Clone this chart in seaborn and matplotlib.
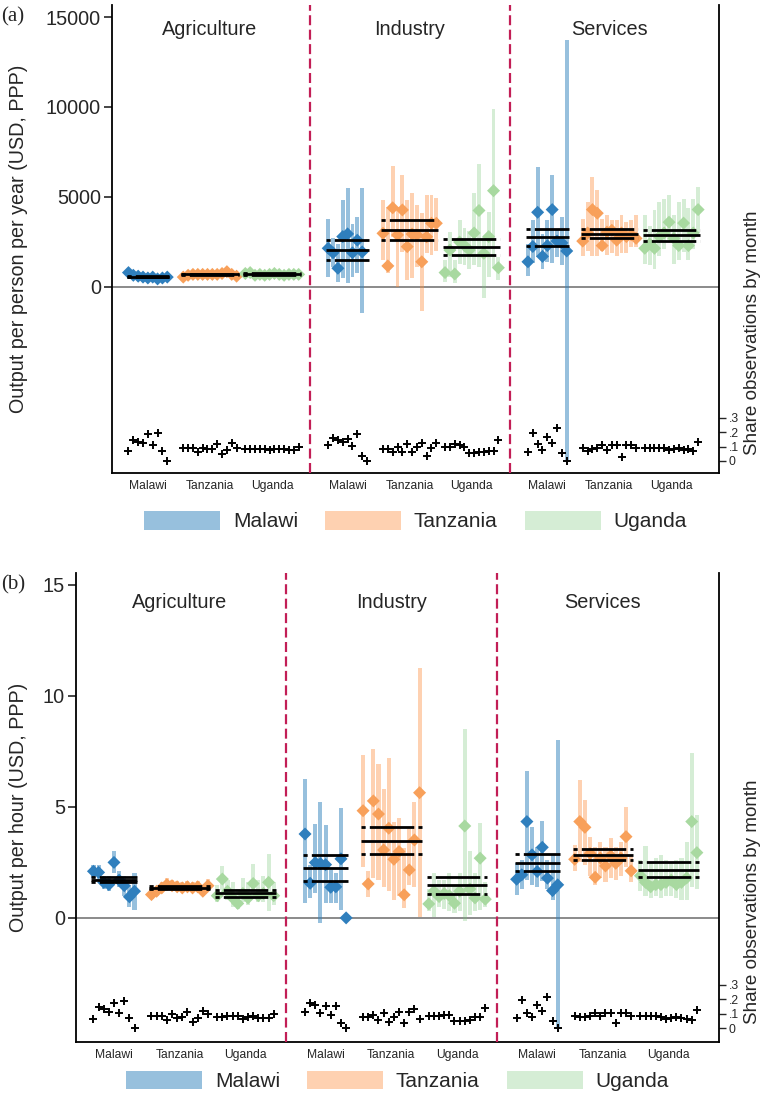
import numpy as np
import pandas as pd
import matplotlib
matplotlib.use("Agg")
import matplotlib.pyplot as plt
import matplotlib.transforms as mtransforms
from matplotlib.patches import Patch
import seaborn as sns

nan = np.nan

COUNTRIES = ["Malawi", "Tanzania", "Uganda"]
SECTORS = ["Agriculture", "Industry", "Services"]

# ---------------- panel (a): output per person per year ----------------
# one list per country (Malawi, Tanzania, Uganda), one value per survey month
YR_AGR_EST = [[800, 650, 600, 550, 500, 550, 450, 500, 550],
              [550, 650, 700, 700, 700, 700, 700, 700, 750, 850, 700, 600],
              [750, 800, 650, 700, 650, 700, 750, 700, 650, 700, 700, 700]]
YR_AGR_LO = [[650, 500, 450, 400, 380, 400, 330, 380, 380],
             [420, 520, 600, 600, 600, 600, 600, 600, 620, 700, 580, 480],
             [620, 650, 520, 580, 540, 580, 620, 580, 540, 580, 580, 580]]
YR_AGR_HI = [[900, 780, 720, 680, 640, 680, 580, 640, 700],
             [680, 780, 800, 800, 800, 800, 800, 800, 880, 950, 820, 720],
             [880, 920, 780, 820, 770, 820, 880, 820, 780, 820, 820, 820]]

YR_IND_EST = [[2150, 1900, 1040, 2800, 2950, 1900, 2600, 1950, nan],
              [2980, 1170, 4400, 2890, 4280, 2240, 2940, 2890, 1400, 2790, 3540, 3540],
              [800, 2050, 720, 2500, 2300, 2050, 3000, 4250, 1870, 2800, 5350, 1070]]
YR_IND_LO = [[570, 1100, 300, 480, 200, 570, 760, -1460, nan],
             [1500, 760, 2800, 20, 1960, 390, 480, 1100, -1320, 1900, 1800, 2000],
             [300, 570, 200, 1300, 1200, 1000, 1220, 1130, -630, 570, 1130, 390]]
YR_IND_HI = [[3760, 2700, 2400, 4830, 5480, 3500, 3900, 5480, nan],
             [4830, 4440, 6720, 4460, 6220, 4830, 5210, 4560, 4090, 5110, 5100, 4940],
             [1500, 3070, 1500, 3700, 3300, 3100, 5210, 6820, 2790, 4180, 9870, 1680]]

YR_SRV_EST = [[1400, 2250, 4150, 1700, 2300, 4300, 2550, 2450, 2000],
              [2550, 3000, 4300, 4100, 2300, 3050, 3150, 2600, 3000, 2800, 2900, 2700],
              [2150, 2400, 2150, 2800, 3000, 3600, 2700, 2300, 3550, 2300, 3000, 4300]]
YR_SRV_LO = [[600, 1320, 1680, 1000, 1390, 1320, 1680, 1220, -9600],
             [1700, 2000, 1700, 1700, 2000, 1800, 1900, 1700, 1900, 1900, 2200, 2200],
             [1300, 1200, 1000, 1700, 2100, 2600, 1300, 1500, 1950, 1500, 2100, 3000]]
YR_SRV_HI = [[2400, 3720, 6680, 2920, 3720, 6220, 3170, 3870, 13700],
             [3800, 4700, 6100, 5400, 3800, 4000, 3700, 3700, 4000, 3600, 3700, 4000],
             [4000, 3400, 4300, 4700, 4900, 5100, 4000, 4700, 4900, 4400, 4900, 5550]]

# pooled mean and its interval per country: [low, mean, high]
YR_AGR_BAND = [[530, 570, 610], [675, 705, 735], [690, 720, 750]]
YR_IND_BAND = [[1500, 2056, 2611], [2611, 3167, 3722], [1778, 2240, 2685]]
YR_SRV_BAND = [[2296, 2759, 3222], [2700, 2950, 3222], [2572, 2889, 3167]]

# share of observations by month
SH_YR_AGR = [[0.07, 0.147, 0.135, 0.124, 0.187, 0.112, 0.194, 0.07, 0.002],
             [0.089, 0.089, 0.089, 0.065, 0.089, 0.08, 0.08, 0.119, 0.049, 0.075, 0.124, 0.089],
             [0.085, 0.085, 0.08, 0.085, 0.08, 0.075, 0.08, 0.08, 0.08, 0.075, 0.075, 0.1]]
SH_YR_IND = [[0.112, 0.159, 0.147, 0.135, 0.152, 0.107, 0.187, 0.035, 0.0],
             [0.085, 0.085, 0.065, 0.1, 0.065, 0.115, 0.065, 0.1, 0.125, 0.035, 0.09, 0.125],
             [0.1, 0.1, 0.12, 0.11, 0.1, 0.055, 0.055, 0.06, 0.06, 0.07, 0.07, 0.145]]
SH_YR_SRV = [[0.065, 0.194, 0.119, 0.077, 0.166, 0.128, 0.229, 0.058, 0.0],
             [0.09, 0.07, 0.08, 0.09, 0.11, 0.075, 0.11, 0.11, 0.03, 0.11, 0.11, 0.09],
             [0.09, 0.09, 0.09, 0.09, 0.09, 0.075, 0.085, 0.09, 0.075, 0.085, 0.07, 0.13]]

# ---------------- panel (b): output per hour ----------------
HR_AGR_EST = [[2.1, 2.05, 1.6, 1.5, 2.5, 1.7, 1.45, 0.95, 1.2],
              [1.05, 1.2, 1.35, 1.5, 1.45, 1.4, 1.35, 1.4, 1.35, 1.4, 1.2, 1.45],
              [1.0, 1.75, 1.2, 0.9, 0.65, 1.1, 0.9, 1.55, 1.0, 1.1, 1.6, 1.0]]
HR_AGR_LO = [[1.8, 1.7, 1.3, 1.2, 2.0, 1.4, 1.0, 0.5, 0.35],
             [0.85, 1.0, 1.15, 1.25, 1.25, 1.2, 1.15, 1.2, 1.15, 1.2, 1.0, 1.2],
             [0.7, 1.25, 0.8, 0.5, 0.4, 0.7, 0.6, 1.1, 0.7, 0.7, 0.3, 0.6]]
HR_AGR_HI = [[2.4, 2.4, 1.9, 1.9, 3.0, 2.1, 1.9, 1.5, 2.0],
             [1.3, 1.45, 1.6, 1.8, 1.7, 1.65, 1.6, 1.65, 1.6, 1.65, 1.5, 1.75],
             [1.5, 2.35, 1.7, 1.6, 1.3, 1.8, 1.6, 2.45, 1.7, 1.9, 2.9, 1.6]]

HR_IND_EST = [[3.78, 1.56, 2.49, 2.45, 2.4, 1.38, 1.4, 2.66, 0.0],
              [4.83, 1.53, 5.27, 4.68, 3.06, 4.04, 2.64, 2.99, 1.04, 2.16, 3.51, 5.64],
              [0.63, 1.2, 0.96, 1.1, 1.0, 0.66, 1.2, 4.14, 1.3, 0.9, 2.69, 0.84]]
HR_IND_LO = [[0.66, 0.9, 1.11, -0.24, 0.66, 0.66, 0.66, 0.36, nan],
             [2.31, 0.96, 1.8, 1.7, 1.41, 1.2, 0.81, 1.0, 0.44, 1.49, 1.4, 0.06],
             [0.3, 0.06, 0.5, 0.4, 0.3, 0.2, 0.3, -0.16, 0.14, 0.3, 0.36, 0.5]]
HR_IND_HI = [[6.25, 2.4, 4.23, 5.24, 4.17, 2.16, 2.0, 4.94, nan],
             [7.34, 2.1, 7.6, 6.94, 5.8, 7.22, 4.3, 4.5, 3.14, 4.0, 5.24, 11.28],
             [1.3, 2.0, 1.7, 1.7, 2.0, 1.5, 2.0, 8.5, 3.0, 2.0, 4.29, 1.6]]

HR_SRV_EST = [[1.74, 1.94, 4.34, 2.84, 2.09, 3.18, 1.79, 1.23, 1.49],
              [2.64, 4.34, 4.08, 2.9, 1.83, 2.7, 2.34, 2.8, 2.46, 2.7, 3.66, 2.12],
              [1.9, 1.6, 1.4, 1.5, 1.5, 1.6, 1.7, 1.5, 1.6, 1.8, 4.34, 2.94]]
HR_SRV_LO = [[1.04, 1.3, 1.71, 1.49, 1.4, 1.64, 1.3, 0.81, -4.95],
             [2.1, 2.5, 2.4, 1.9, 1.5, 1.8, 1.6, 1.8, 1.7, 1.9, 2.3, 1.6],
             [1.2, 1.0, 0.9, 1.0, 0.9, 1.0, 1.0, 0.9, 0.8, 0.8, 1.4, 1.3]]
HR_SRV_HI = [[2.46, 2.6, 6.6, 4.11, 3.2, 4.37, 2.6, 2.9, 8.0],
             [3.3, 6.22, 5.32, 3.66, 3.2, 3.4, 3.2, 3.59, 3.2, 3.4, 4.99, 2.8],
             [2.6, 3.24, 2.5, 2.7, 2.84, 2.6, 2.5, 2.6, 2.7, 3.44, 7.42, 4.64]]

HR_AGR_BAND = [[1.6, 1.72, 1.85], [1.28, 1.35, 1.42], [0.95, 1.1, 1.25]]
HR_IND_BAND = [[1.67, 2.27, 2.84], [2.87, 3.48, 4.08], [1.08, 1.47, 1.86]]
HR_SRV_BAND = [[2.12, 2.49, 2.87], [2.61, 2.84, 3.11], [1.82, 2.16, 2.51]]

SH_HR_AGR = [[0.065, 0.146, 0.132, 0.111, 0.178, 0.108, 0.19, 0.069, 0.0],
             [0.085, 0.085, 0.085, 0.058, 0.099, 0.069, 0.076, 0.115, 0.046, 0.069, 0.122, 0.099],
             [0.076, 0.076, 0.085, 0.085, 0.085, 0.062, 0.076, 0.085, 0.069, 0.069, 0.069, 0.099]]
SH_HR_IND = [[0.115, 0.178, 0.162, 0.108, 0.157, 0.092, 0.155, 0.039, 0.0],
             [0.08, 0.075, 0.095, 0.055, 0.105, 0.045, 0.08, 0.115, 0.035, 0.115, 0.13, 0.065],
             [0.085, 0.085, 0.085, 0.092, 0.092, 0.053, 0.053, 0.053, 0.058, 0.081, 0.081, 0.139]]
SH_HR_SRV = [[0.069, 0.196, 0.108, 0.076, 0.162, 0.12, 0.22, 0.053, 0.0],
             [0.085, 0.076, 0.081, 0.085, 0.104, 0.085, 0.104, 0.108, 0.035, 0.108, 0.108, 0.085],
             [0.085, 0.085, 0.085, 0.085, 0.076, 0.062, 0.069, 0.076, 0.069, 0.062, 0.058, 0.127]]

# ---------------- styling ----------------
BAR_COL = {"Malawi": "#3182bd", "Tanzania": "#fd8d3c", "Uganda": "#74c476"}
BAR_ALPHA = {"Malawi": 0.5, "Tanzania": 0.4, "Uganda": 0.3}
DIAMOND_COL = {"Malawi": "#2f7fbd", "Tanzania": "#f8a05a", "Uganda": "#a8d9a0"}
RED = "#c21e56"

# x layout (one unit = one survey month)
X0, SECTOR_STEP, COUNTRY_STEP, XMAX = 7.4, 41.2, 12.8, 125.2

sns.set_style("white")
plt.rcParams["font.family"] = ["Liberation Sans", "DejaVu Sans"]


def build_frame(est, lo, hi, share):
    rows = []
    for s, sector in enumerate(SECTORS):
        for c, country in enumerate(COUNTRIES):
            n = len(est[s][c])
            center = X0 + s * SECTOR_STEP + c * COUNTRY_STEP
            for i in range(n):
                rows.append(dict(sector=sector, country=country, s=s, c=c,
                                 x=center + i - (n - 1) / 2,
                                 est=est[s][c][i], lo=lo[s][c][i], hi=hi[s][c][i],
                                 share=share[s][c][i]))
    return pd.DataFrame(rows)


def draw_panel(ax, df, bands, ylim, yticks, ylabel, ylab_x, y2lim, y2lab_x,
               title_y, legend_y):
    ax.set_xlim(0, XMAX)
    ax.set_ylim(*ylim)

    # month-level confidence intervals
    for country in COUNTRIES:
        sub = df[(df.country == country)].dropna(subset=["lo", "hi"])
        ax.bar(sub.x, sub.hi - sub.lo, bottom=sub.lo, width=0.8,
               color=BAR_COL[country], alpha=BAR_ALPHA[country], lw=0, zorder=2)

    # month-level point estimates
    sns.scatterplot(data=df.dropna(subset=["est"]), x="x", y="est", hue="country",
                    palette=DIAMOND_COL, marker="D", s=44, linewidth=0,
                    legend=False, ax=ax, zorder=3)

    # pooled mean and interval
    for s in range(3):
        for c in range(3):
            sub = df[(df.s == s) & (df.c == c)]
            x0, x1 = sub.x.min() - 0.4, sub.x.max() + 0.4
            low, mid, high = bands[s][c]
            ax.hlines(mid, x0, x1, color="black", lw=2.0, zorder=4)
            for v in (low, high):
                ax.hlines(v, x0, x1, color="black", lw=2.0, zorder=4,
                          linestyles=[(0, (1.5, 1.5, 16, 1.5))])

    ax.axhline(0, color="#8a8a8a", lw=1.4, zorder=1)
    for s in (1, 2):
        xb = (X0 + (s - 1) * SECTOR_STEP + 2 * COUNTRY_STEP + X0 + s * SECTOR_STEP) / 2
        ax.axvline(xb, color=RED, lw=1.6, ls=(0, (4.5, 2)), zorder=5)

    trans = mtransforms.blended_transform_factory(ax.transData, ax.transAxes)
    for s, sector in enumerate(SECTORS):
        ax.text(X0 + s * SECTOR_STEP + COUNTRY_STEP, title_y, sector,
                transform=trans, ha="center", va="center", fontsize=14.3)

    centers = [X0 + s * SECTOR_STEP + c * COUNTRY_STEP for s in range(3) for c in range(3)]
    ax.set_xticks(centers)
    ax.set_xticklabels(COUNTRIES * 3, fontsize=8.7)
    ax.tick_params(axis="x", length=0, pad=5)
    ax.set_yticks(yticks)
    ax.set_yticklabels([str(t) for t in yticks], fontsize=14.3)
    ax.tick_params(axis="y", length=6, width=1.2, pad=2, direction="out", left=True)
    ax.set_xlabel("")
    ax.set_ylabel(ylabel, fontsize=14.2)
    ax.yaxis.set_label_coords(ylab_x, 0.5)
    for side in ("top", "right"):
        ax.spines[side].set_visible(False)
    for side in ("left", "bottom"):
        ax.spines[side].set_color("black")
        ax.spines[side].set_linewidth(1.3)

    # share of observations by month (right axis)
    ax2 = ax.twinx()
    sns.scatterplot(data=df, x="x", y="share", marker="+", color="black", s=38,
                    linewidth=1.4, legend=False, ax=ax2, zorder=6)
    ax2.set_ylim(*y2lim)
    ax2.set_xlim(0, XMAX)
    ax2.set_yticks([0, 0.1, 0.2, 0.3])
    ax2.set_yticklabels(["0", ".1", ".2", ".3"], fontsize=8.7)
    ax2.tick_params(axis="y", length=5, width=1.0, pad=2, direction="out", right=True)
    ax2.set_ylabel("Share observations by month", fontsize=13.6)
    ax2.yaxis.set_label_coords(y2lab_x, 0.3)
    for side in ("top", "left", "bottom"):
        ax2.spines[side].set_visible(False)
    ax2.spines["right"].set_color("black")
    ax2.spines["right"].set_linewidth(1.3)

    handles = [Patch(facecolor=BAR_COL[k], alpha=BAR_ALPHA[k], lw=0) for k in COUNTRIES]
    ax.legend(handles, COUNTRIES, loc="center", bbox_to_anchor=(0.5, legend_y), ncol=3,
              frameon=False, fontsize=15, handlelength=3.65, handleheight=1.0,
              handletextpad=0.6, columnspacing=1.3)


fig = plt.figure(figsize=(7.66, 11.10), dpi=100)
ax_a = fig.add_axes([0.1462, 0.5739, 0.7924, 0.4216])
ax_b = fig.add_axes([0.0992, 0.0613, 0.8394, 0.4225])

df_a = build_frame([YR_AGR_EST, YR_IND_EST, YR_SRV_EST],
                   [YR_AGR_LO, YR_IND_LO, YR_SRV_LO],
                   [YR_AGR_HI, YR_IND_HI, YR_SRV_HI],
                   [SH_YR_AGR, SH_YR_IND, SH_YR_SRV])
df_b = build_frame([HR_AGR_EST, HR_IND_EST, HR_SRV_EST],
                   [HR_AGR_LO, HR_IND_LO, HR_SRV_LO],
                   [HR_AGR_HI, HR_IND_HI, HR_SRV_HI],
                   [SH_HR_AGR, SH_HR_IND, SH_HR_SRV])

draw_panel(ax_a, df_a, [YR_AGR_BAND, YR_IND_BAND, YR_SRV_BAND],
           (-10333, 15667), [0, 5000, 10000, 15000],
           "Output per person per year (USD, PPP)", -0.138,
           (-0.084, 3.18), 1.041, 0.947, -0.103)
draw_panel(ax_b, df_b, [HR_AGR_BAND, HR_IND_BAND, HR_SRV_BAND],
           (-5.59, 15.54), [0, 5, 10, 15],
           "Output per hour (USD, PPP)", -0.075,
           (-0.095, 3.155), 1.039, 0.936, -0.083)

fig.text(0.002, 1 - 17 / 1110, "(a)", family=["Liberation Serif", "DejaVu Serif"],
         fontsize=15, ha="left", va="center")
fig.text(0.002, 1 - 585 / 1110, "(b)", family=["Liberation Serif", "DejaVu Serif"],
         fontsize=15, ha="left", va="center")

fig.savefig("out.png", dpi=100)
